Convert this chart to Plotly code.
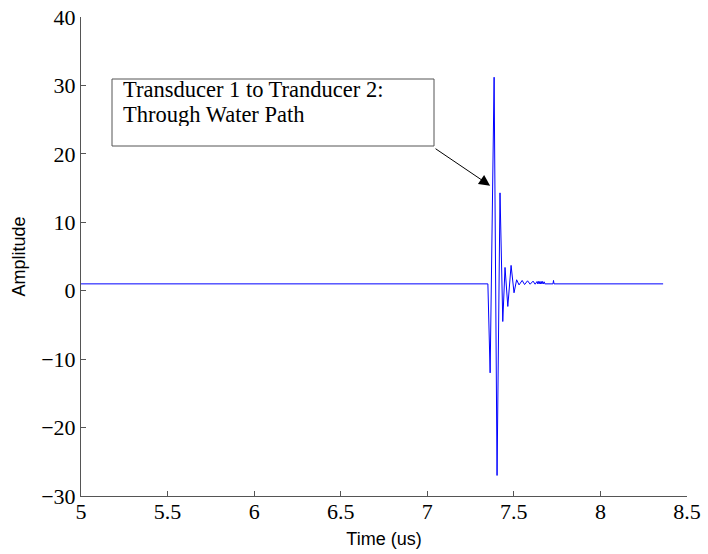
import plotly.graph_objects as go

# ---- data ----
time_us = [5.0, 7.350, 7.363, 7.386, 7.403, 7.420, 7.436, 7.449, 7.465, 7.484,
           7.501, 7.516, 7.530, 7.548, 7.562, 7.579, 7.594, 7.611, 7.623,
           7.634, 7.638, 7.642, 7.646, 7.650, 7.654, 7.658, 7.662, 7.666, 7.670,
           7.675, 7.679, 7.726, 7.729, 7.732, 8.362]
amplitude = [1.0, 1.0, -12.0, 31.2, -27.0, 14.3, -4.5, 3.4, -2.3, 3.7,
             -0.3, 1.6, 0.85, 1.5, 0.9, 1.45, 0.95, 1.4, 0.95,
             1.35, 1.0, 1.35, 1.0, 1.35, 1.0, 1.35, 1.0, 1.35, 1.0,
             1.3, 1.0, 1.0, 1.5, 1.0, 1.0]

x_ticks = [5, 5.5, 6, 6.5, 7, 7.5, 8, 8.5]
y_ticks = [-30, -20, -10, 0, 10, 20, 30, 40]

note_line1 = "Transducer 1 to Tranducer 2:"
note_line2 = "Through Water Path"
arrow_tip = (7.363, 15.35)
arrow_tail = (7.039, 20.9)

serif = "Liberation Serif, Times New Roman, serif"
sans = "Liberation Sans, Arial, sans-serif"
axis_col = "#555555"

fig = go.Figure()
fig.add_trace(go.Scatter(x=time_us, y=amplitude, mode="lines",
                         line=dict(color="#0000ff", width=1), showlegend=False,
                         hoverinfo="skip"))

fig.update_layout(
    width=708, height=554,
    margin=dict(l=81, r=21, t=17, b=58),
    paper_bgcolor="white", plot_bgcolor="white",
    showlegend=False,
)
fig.update_xaxes(
    range=[5, 8.5], tickvals=x_ticks, ticktext=[f"{v:g}" for v in x_ticks],
    automargin=False, ticklabelstandoff=-4,
    showgrid=False, zeroline=False, showline=True, linecolor=axis_col, linewidth=1,
    ticks="inside", ticklen=5, tickcolor=axis_col, tickwidth=1,
    tickfont=dict(family=serif, size=22, color="black"),
    title=dict(text="Time (us)", font=dict(family=sans, size=18, color="black"), standoff=8),
)
fig.update_yaxes(
    range=[-30, 40], tickvals=y_ticks, ticktext=[f"{v}".replace("-", "\u2212") for v in y_ticks],
    automargin=False,
    showgrid=False, zeroline=False, showline=True, linecolor=axis_col, linewidth=1,
    ticks="inside", ticklen=5, tickcolor=axis_col, tickwidth=1,
    tickfont=dict(family=serif, size=22, color="black"),
    title=dict(text="Amplitude", font=dict(family=sans, size=18, color="black"), standoff=10),
)

# text box frame
fig.add_shape(type="rect", xref="paper", yref="paper",
              x0=(112 - 81) / 606, x1=(434 - 81) / 606,
              y0=(496 - 146) / 479, y1=(496 - 79) / 479,
              line=dict(color=axis_col, width=1), fillcolor="white", layer="above")
fig.add_annotation(xref="paper", yref="paper", x=(122 - 81) / 606, y=(496 - 88.5) / 479,
                   xanchor="left", yanchor="middle", text=note_line1, showarrow=False,
                   height=24, borderpad=0, valign="middle",
                   font=dict(family=serif, size=22.5, color="black"))
fig.add_annotation(xref="paper", yref="paper", x=(122 - 81) / 606, y=(496 - 113.5) / 479,
                   xanchor="left", yanchor="middle", text=note_line2, showarrow=False,
                   height=24, borderpad=0, valign="middle",
                   font=dict(family=serif, size=22.5, color="black"))
# arrow
fig.add_annotation(x=arrow_tip[0], y=arrow_tip[1], xref="x", yref="y",
                   ax=arrow_tail[0], ay=arrow_tail[1], axref="x", ayref="y",
                   text="", showarrow=True, arrowhead=2, arrowsize=2.2,
                   arrowwidth=1, arrowcolor="black")

fig.write_html("out.html")
